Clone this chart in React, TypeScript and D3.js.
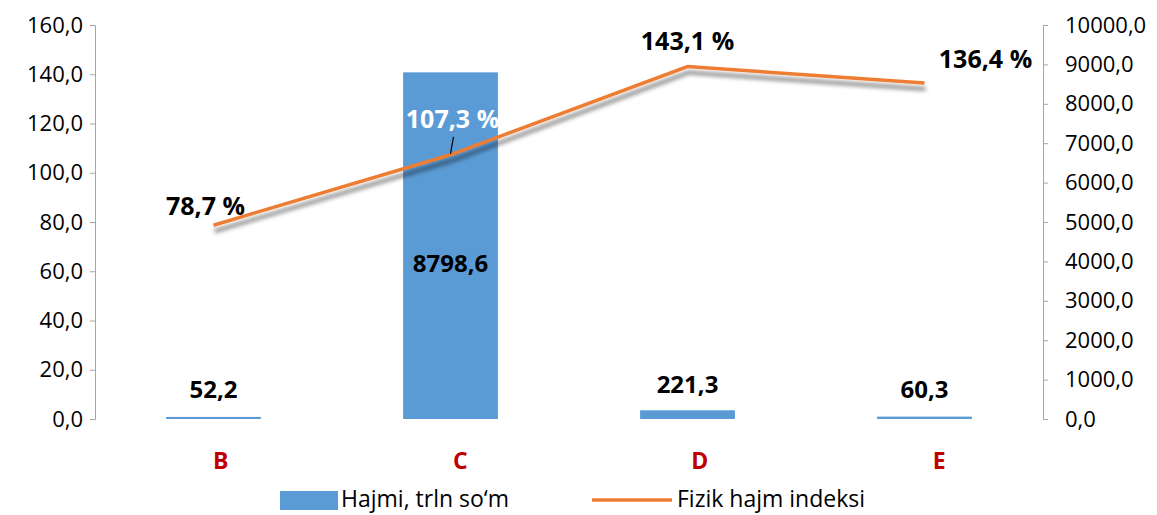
import React, { useEffect, useRef } from 'react';
import * as d3 from 'd3';

// categories and values
const categories = ['B', 'C', 'D', 'E'];
const volume = [52.2, 8798.6, 221.3, 60.3]; // Hajmi, trln so'm (right axis)
const index = [78.7, 107.3, 143.1, 136.4]; // Fizik hajm indeksi, % (left axis)
const leftTicks = [0, 20, 40, 60, 80, 100, 120, 140, 160];
const rightTicks = [0, 1000, 2000, 3000, 4000, 5000, 6000, 7000, 8000, 9000, 10000];
const legendLabels = ['Hajmi, trln so‘m', 'Fizik hajm indeksi'];

const fmt = (v: number) => v.toFixed(1).replace('.', ',');

export default function App() {
    const ref = useRef<SVGSVGElement>(null);

    useEffect(() => {
        const svg = d3.select(ref.current);
        svg.selectAll('*').remove();

        const margin = { top: 25, left: 95, right: 114, bottom: 96 };
        const W = 1157, H = 515;
        const font = "'Open Sans', 'Noto Sans', sans-serif";

        const x = d3.scaleBand().domain(categories)
            .range([margin.left, W - margin.right])
            .paddingInner(0.6).paddingOuter(0.3);
        // category labels sit a bit right of the bars in the original
        const xLab = d3.scaleBand().domain(categories)
            .range([margin.left + 6, W - margin.right + 16]);
        const yL = d3.scaleLinear().domain([0, 160]).range([H - margin.bottom, margin.top]);
        const yR = d3.scaleLinear().domain([0, 10000]).range([H - margin.bottom, margin.top]);

        const defs = svg.append('defs');
        const f = defs.append('filter').attr('id', 'shadow')
            .attr('x', '-10%').attr('y', '-50%').attr('width', '120%').attr('height', '200%');
        f.append('feGaussianBlur').attr('in', 'SourceAlpha').attr('stdDeviation', 2.2).attr('result', 'b');
        f.append('feOffset').attr('in', 'b').attr('dx', 1).attr('dy', 6).attr('result', 'o');
        f.append('feFlood').attr('flood-color', '#000').attr('flood-opacity', 0.5);
        f.append('feComposite').attr('in2', 'o').attr('operator', 'in').attr('result', 's');
        const m = f.append('feMerge');
        m.append('feMergeNode').attr('in', 's');
        m.append('feMergeNode').attr('in', 'SourceGraphic');

        // axes
        const axL = svg.append('g').attr('transform', `translate(${margin.left},0)`)
            .call(d3.axisLeft(yL).tickValues(leftTicks).tickFormat((d: any) => fmt(d)).tickSize(5).tickPadding(7));
        const axR = svg.append('g').attr('transform', `translate(${W - margin.right},0)`)
            .call(d3.axisRight(yR).tickValues(rightTicks).tickFormat((d: any) => fmt(d)).tickSize(5).tickPadding(17));
        [axL, axR].forEach(a => {
            a.select('.domain').attr('stroke', '#a6a6a6');
            a.selectAll('.tick line').attr('stroke', '#a6a6a6');
            a.selectAll('.tick text').attr('fill', '#000').style('font-size', '22px').style('font-family', font);
        });

        // bars
        svg.append('g').selectAll('rect').data(categories).enter().append('rect')
            .attr('x', d => x(d)!)
            .attr('width', x.bandwidth())
            .attr('y', (d, i) => yR(volume[i]))
            .attr('height', (d, i) => Math.max(1.5, yR(0) - yR(volume[i])))
            .attr('fill', '#5b9bd5');

        // line
        const line = d3.line<number>()
            .x((d, i) => x(categories[i])! + x.bandwidth() / 2)
            .y(d => yL(d));
        svg.append('path').datum(index)
            .attr('d', line)
            .attr('fill', 'none')
            .attr('stroke', '#ed7d31')
            .attr('stroke-width', 3.5)
            .attr('filter', 'url(#shadow)');

        // category labels
        svg.append('g').selectAll('text').data(categories).enter().append('text')
            .attr('x', d => xLab(d)! + xLab.bandwidth() / 2)
            .attr('y', 469)
            .attr('text-anchor', 'middle')
            .attr('fill', '#c00000')
            .style('font-weight', 'bold').style('font-size', '23px').style('font-family', font)
            .text(d => d);

        // bar labels
        const barLabelY = [398, 272, 393, 398];
        svg.append('g').selectAll('text').data(categories).enter().append('text')
            .attr('x', d => x(d)! + x.bandwidth() / 2)
            .attr('y', (d, i) => barLabelY[i])
            .attr('text-anchor', 'middle')
            .attr('fill', '#000')
            .style('font-weight', 'bold').style('font-size', '24px').style('font-family', font)
            .text((d, i) => fmt(volume[i]));

        // line labels
        const lineLabelDx = [-8, 2, 0, 61];
        const lineLabelDy = [-10, -27, -17, -15];
        const lineLabelColor = ['#000', '#fff', '#000', '#000'];
        svg.append('g').selectAll('text').data(categories).enter().append('text')
            .attr('x', (d, i) => x(d)! + x.bandwidth() / 2 + lineLabelDx[i])
            .attr('y', (d, i) => yL(index[i]) + lineLabelDy[i])
            .attr('text-anchor', 'middle')
            .attr('fill', (d, i) => lineLabelColor[i])
            .style('font-weight', 'bold').style('font-size', '25px').style('font-family', font)
            .text((d, i) => fmt(index[i]) + ' %');

        // leader line for C label
        const cx = x('C')! + x.bandwidth() / 2;
        svg.append('line')
            .attr('x1', cx + 3).attr('y1', yL(index[1]) - 18)
            .attr('x2', cx).attr('y2', yL(index[1]) - 1)
            .attr('stroke', '#000').attr('stroke-width', 1.2);

        // legend
        const lg = svg.append('g').style('font-family', font).style('font-size', '23px');
        lg.append('rect').attr('x', 280).attr('y', 491).attr('width', 58).attr('height', 19).attr('fill', '#5b9bd5');
        lg.append('text').attr('x', 341).attr('y', 507).attr('fill', '#000').text(legendLabels[0]);
        lg.append('line').attr('x1', 592).attr('x2', 672).attr('y1', 500).attr('y2', 500)
            .attr('stroke', '#ed7d31').attr('stroke-width', 3.5);
        lg.append('text').attr('x', 677).attr('y', 507).attr('fill', '#000').text(legendLabels[1]);
    }, []);

    return (
        <svg ref={ref} width={1157} height={515}
            style={{ position: 'absolute', left: 0, top: 0, background: '#fff' }} />
    );
}
